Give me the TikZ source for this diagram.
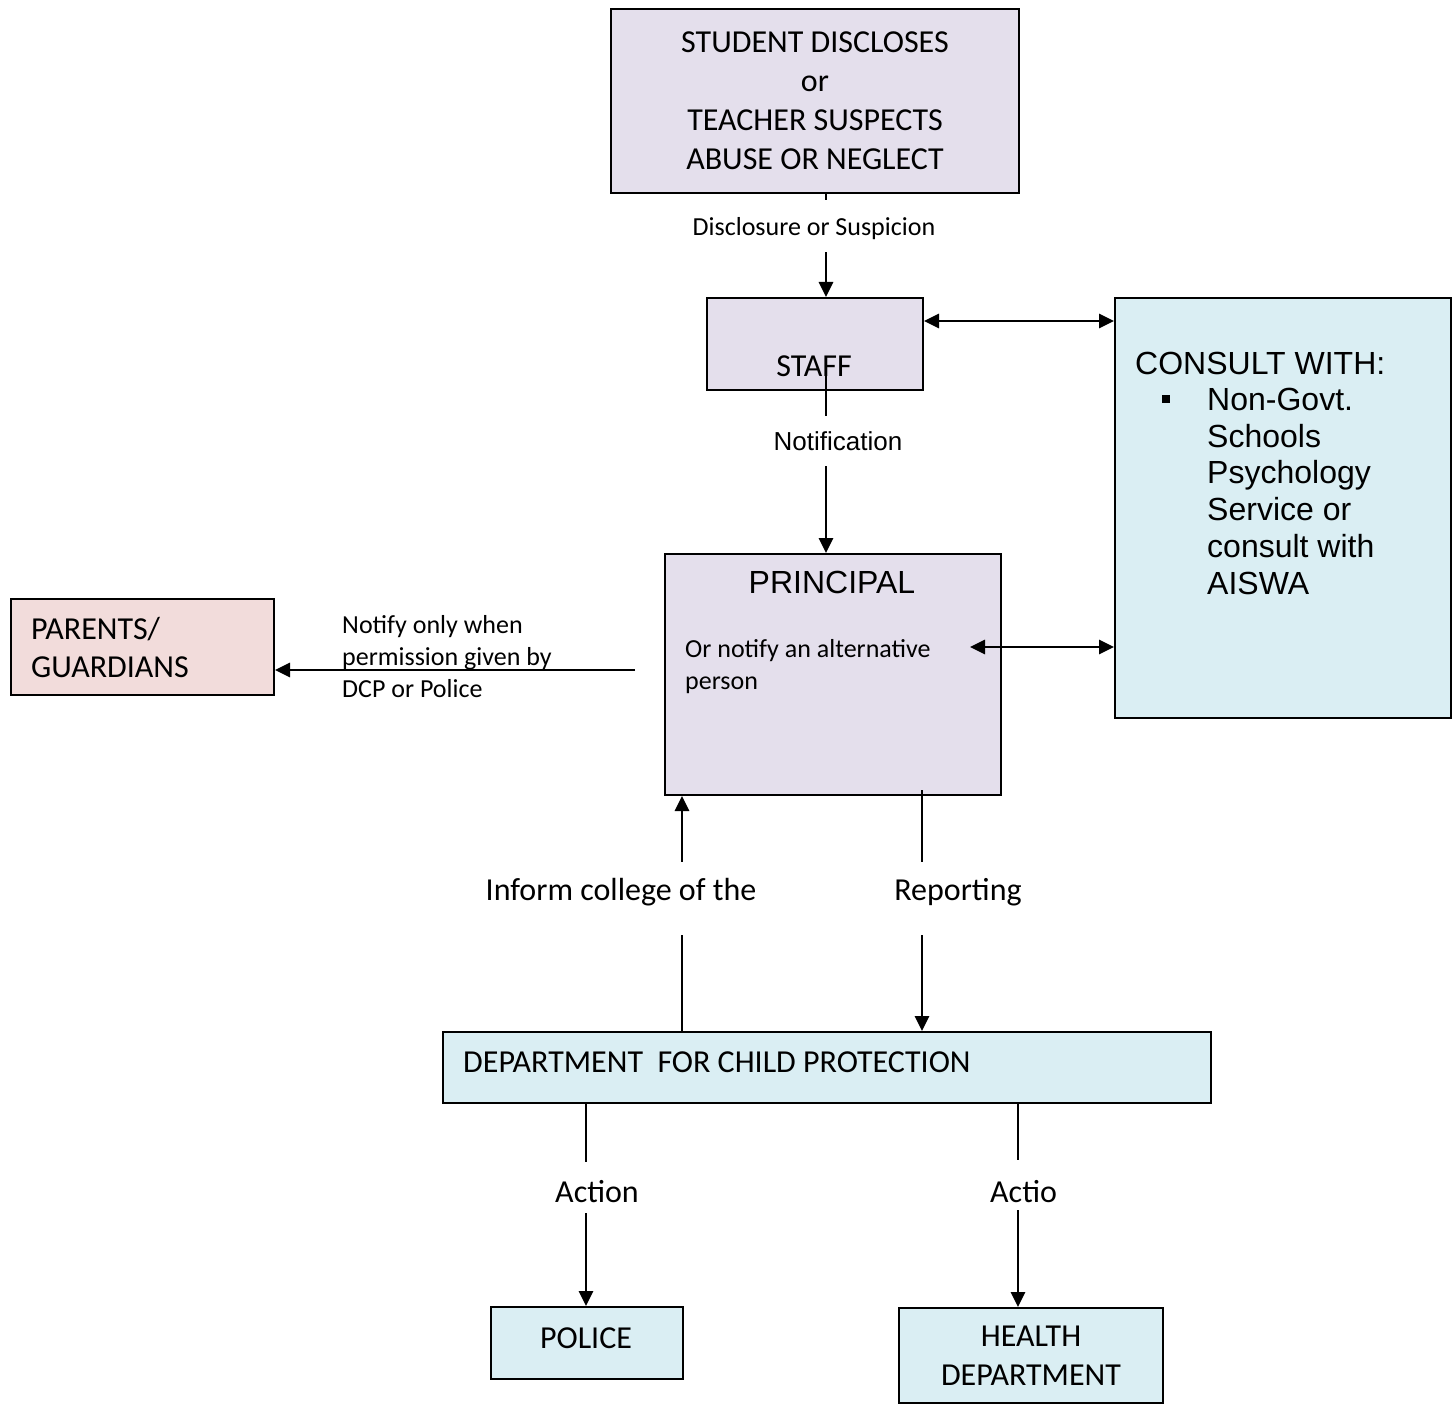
\documentclass[tikz,border=0pt]{standalone}
\usepackage{fontspec}
\setmainfont{Carlito}
\newfontfamily\arialf{Liberation Sans}
\usetikzlibrary{arrows.meta,calc}
\definecolor{lav}{HTML}{E4DFEC}
\definecolor{lblue}{HTML}{DAEEF3}
\definecolor{lpink}{HTML}{F2DCDB}
\begin{document}
\begin{tikzpicture}[x=1pt,y=-1pt,
  box/.style={draw=black, line width=2pt, anchor=north west, inner sep=0pt},
  conn/.style={line width=2.8pt, -{Triangle[width=14pt,length=15pt]}},
  both/.style={line width=2.8pt, {Triangle[width=14pt,length=15pt]}-{Triangle[width=14pt,length=15pt]}},
  cfont/.style={font=\fontsize{32}{39}\selectfont},
  sfont/.style={font=\fontsize{26}{32}\selectfont},
  afont/.style={font=\arialf\fontsize{32}{36.7}\selectfont},
  gapbox/.style={fill=white, inner sep=0pt, minimum width=24pt},
]
\useasboundingbox (0,0) rectangle (1455,1404);

% boxes
\node[box, fill=lav, minimum width=408pt, minimum height=184pt, cfont, align=center] (top) at (610,8)
  {STUDENT DISCLOSES\\or\\TEACHER SUSPECTS\\ABUSE OR NEGLECT};
\node[box, fill=lav, minimum width=216pt, minimum height=92pt] (staff) at (706,297) {};
\node[cfont] (stafft) at (814,366) {STAFF};
\node[box, fill=lblue, minimum width=336pt, minimum height=420pt] (consult) at (1114,297) {};
\node[afont, anchor=west, inner sep=0pt] (consultt) at (1135,363) {CONSULT WITH:};
\node[fill=black, inner sep=0pt, minimum size=8pt] (bul) at (1166,399) {};
\node[afont, align=left, anchor=north west, inner sep=0pt] (consultl) at (1207,388)
  {Non-Govt.\\Schools\\Psychology\\Service or\\consult with\\AISWA};
\node[box, fill=lav, minimum width=336pt, minimum height=241pt] (principal) at (664,553) {};
\node[afont] (principalt) at (832,582) {PRINCIPAL};
\node[sfont, align=left, anchor=north west, inner sep=0pt] (alt) at (685,639)
  {Or notify an alternative\\person};
\node[box, fill=lpink, minimum width=263pt, minimum height=96pt] (parents) at (10,598) {};
\node[align=left, anchor=north west, inner sep=0pt, font=\fontsize{32}{38}\selectfont] (parentst) at (31,617)
  {PARENTS/\\GUARDIANS};
\node[sfont, align=left, anchor=north west, inner sep=0pt] (notify) at (342,615)
  {Notify only when\\permission given by\\DCP or Police};
\node[box, fill=lblue, minimum width=768pt, minimum height=71pt] (dcp) at (442,1031) {};
\node[cfont, anchor=west, inner sep=0pt] (dcpt) at (463,1062) {DEPARTMENT\ \ FOR CHILD PROTECTION};
\node[box, fill=lblue, minimum width=192pt, minimum height=72pt] (police) at (490,1306) {};
\node[cfont] (policet) at (586,1338) {POLICE};
\node[box, fill=lblue, minimum width=264pt, minimum height=95pt, cfont, align=center] (health) at (898,1307)
  {HEALTH\\DEPARTMENT};

% connectors
\coordinate (xa) at (826,0);
\draw[conn] (top.south -| xa) -- (staff.north -| xa);
\coordinate (s0) at (826,370);
\draw[conn] (s0) -- (principal.north -| s0);
\coordinate (ya) at (0,321);
\draw[both] (staff.east |- ya) -- (consult.west |- ya);
\coordinate (p0) at (970,647);
\draw[both] (p0) -- (consult.west |- p0);
\coordinate (p1) at (635,670);
\draw[conn] (p1) -- (parents.east |- p1);
\coordinate (xb) at (682,0);
\draw[conn] (dcp.north -| xb) -- (principal.south -| xb);
\coordinate (p2) at (922,790);
\draw[conn] (p2) -- (dcp.north -| p2);
\coordinate (xc) at (586,0);
\draw[conn] (dcp.south -| xc) -- (police.north -| xc);
\coordinate (xd) at (1018,0);
\draw[conn] (dcp.south -| xd) -- (health.north -| xd);

% connector labels
\node[gapbox, minimum height=52pt] (g0) at (826,226) {};
\node[sfont, inner sep=0pt] (lbl1) at (814,229) {Disclosure or Suspicion};
\node[font=\arialf\fontsize{26}{30}\selectfont, fill=white, inner xsep=0pt, minimum height=50pt] (lbl2) at (838,441) {Notification};
\node[gapbox, minimum height=73pt] (g1) at (682,898.5) {};
\node[gapbox, minimum height=73pt] (g2) at (922,898.5) {};
\node[cfont] (lbl3) at (621,892) {Inform college of the};
\node[cfont] (lbl4) at (958,892) {Reporting};
\node[gapbox, minimum height=51pt] (g3) at (586,1187.5) {};
\node[gapbox, minimum height=50pt] (g4) at (1018,1185) {};
\begin{scope}
  \clip (530,1165) rectangle (670,1204);
  \node[cfont] (lbl5) at (597,1192) {Action};
\end{scope}
\begin{scope}
  \clip (970,1165) rectangle (1056,1204);
  \node[cfont, anchor=west, inner sep=0pt] (lbl6) at (990,1192) {Action};
\end{scope}
\end{tikzpicture}
\end{document}
